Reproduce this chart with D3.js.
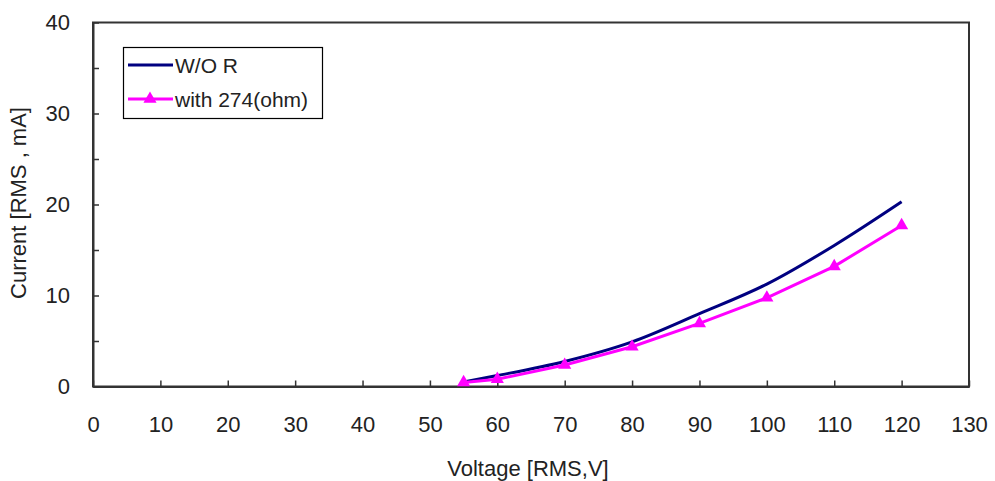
<!DOCTYPE html>
<html>
<head>
<meta charset="utf-8">
<script src="https://cdn.jsdelivr.net/npm/d3@7"></script>
<style>
  body { margin: 0; background: #fff; }
  svg { display: block; font-family: "Liberation Sans", Arial, sans-serif; }
</style>
</head>
<body>
<div id="chart"></div>
<script>
// Values
const voltage = [55, 60, 70, 80, 90, 100, 110, 120];
const currentWoR = [0.5, 1.2, 2.75, 4.9, 8.0, 11.25, 15.5, 20.3];
const currentWithR = [0.45, 0.8, 2.36, 4.37, 6.94, 9.75, 13.2, 17.7];
const xTicks = d3.range(0, 131, 10);
const yTicks = d3.range(0, 41, 5);
const yLabels = [0, 10, 20, 30, 40];
const seriesNames = ["W/O R", "with 274(ohm)"];

const W = 995, H = 481;
const margin = { top: 22.5, right: 26, bottom: 94.5, left: 93 };
const width = W - margin.left - margin.right;
const height = H - margin.top - margin.bottom;

const svg = d3.select("#chart").append("svg")
  .attr("width", W)
  .attr("height", H);

const g = svg.append("g")
  .attr("transform", `translate(${margin.left},${margin.top})`);

// Scales
const x = d3.scaleLinear().domain([0, 130]).range([0, width]);
const y = d3.scaleLinear().domain([0, 40]).range([height, 0]);

// Plot frame
g.append("rect")
  .attr("width", width)
  .attr("height", height)
  .attr("fill", "none")
  .attr("stroke", "#333")
  .attr("stroke-width", 2);

// Axes
const xAxis = g.append("g")
  .attr("transform", `translate(0,${height})`)
  .call(d3.axisBottom(x).tickValues(xTicks).tickSizeInner(-6).tickSizeOuter(0).tickPadding(30));

const yAxis = g.append("g")
  .call(d3.axisLeft(y).tickValues(yTicks).tickSizeInner(-6).tickSizeOuter(0).tickPadding(23)
    .tickFormat(d => yLabels.includes(d) ? d : ""));

[xAxis, yAxis].forEach(a => {
  a.select(".domain").attr("stroke", "#333").attr("stroke-width", 2);
  a.selectAll(".tick line").attr("stroke", "#333").attr("stroke-width", 1.5);
  a.selectAll(".tick text")
    .attr("fill", "#222")
    .style("font-size", "22px");
});

// Axis titles
svg.append("text")
  .attr("x", 528)
  .attr("y", 476)
  .attr("text-anchor", "middle")
  .attr("fill", "#222")
  .style("font-size", "22px")
  .text("Voltage [RMS,V]");

svg.append("text")
  .attr("transform", "translate(26,203) rotate(-90)")
  .attr("text-anchor", "middle")
  .attr("fill", "#222")
  .style("font-size", "22px")
  .text("Current [RMS , mA]");

// Lines
const dataWoR = voltage.map((v, i) => ({ v, c: currentWoR[i] }));
const dataWithR = voltage.map((v, i) => ({ v, c: currentWithR[i] }));

const smoothLine = d3.line()
  .x(d => x(d.v))
  .y(d => y(d.c))
  .curve(d3.curveMonotoneX);

const straightLine = d3.line()
  .x(d => x(d.v))
  .y(d => y(d.c));

g.append("path")
  .datum(dataWoR)
  .attr("fill", "none")
  .attr("stroke", "#000080")
  .attr("stroke-width", 3)
  .attr("d", smoothLine);

g.append("path")
  .datum(dataWithR)
  .attr("fill", "none")
  .attr("stroke", "#ff00ff")
  .attr("stroke-width", 3)
  .attr("d", straightLine);

const tri = d3.symbol().type(d3.symbolTriangle).size(75);

g.selectAll(".marker")
  .data(dataWithR)
  .enter()
  .append("path")
  .attr("class", "marker")
  .attr("transform", d => `translate(${x(d.v)},${y(d.c)})`)
  .attr("d", tri)
  .attr("fill", "#ff00ff");

// Legend
const legend = svg.append("g");
legend.append("rect")
  .attr("x", 123.5)
  .attr("y", 47.5)
  .attr("width", 199)
  .attr("height", 71)
  .attr("fill", "#fff")
  .attr("stroke", "#000")
  .attr("stroke-width", 1.2);

const legendColors = ["#000080", "#ff00ff"];
const legendY = [65, 99];
seriesNames.forEach((name, i) => {
  legend.append("line")
    .attr("x1", 128).attr("x2", 173)
    .attr("y1", legendY[i]).attr("y2", legendY[i])
    .attr("stroke", legendColors[i])
    .attr("stroke-width", 3);
  if (i === 1) {
    legend.append("path")
      .attr("transform", `translate(150,${legendY[i]})`)
      .attr("d", tri)
      .attr("fill", "#ff00ff");
  }
  legend.append("text")
    .attr("x", 175)
    .attr("y", legendY[i] + 8)
    .attr("fill", "#222")
    .style("font-size", "21px")
    .text(name);
});
</script>
</body>
</html>
